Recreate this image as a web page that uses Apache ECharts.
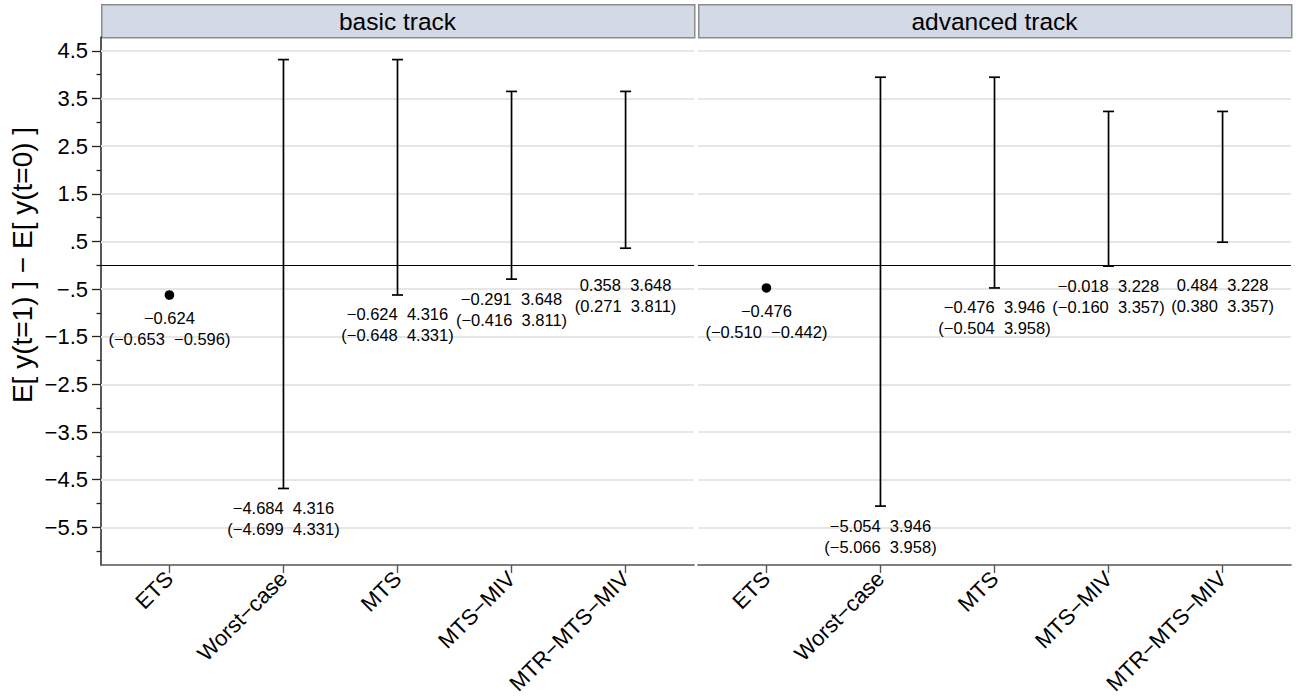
<!DOCTYPE html>
<html>
<head>
<meta charset="utf-8">
<script src="https://cdn.jsdelivr.net/npm/echarts@6/dist/echarts.min.js"></script>
<style>
html,body{margin:0;padding:0;background:#fff;}
#chart{width:1301px;height:698px;}
</style>
</head>
<body>
<div id="chart"></div>
<script>
// ---------- data ----------
const categories = ['ETS', 'Worst\u2212case', 'MTS', 'MTS\u2212MIV', 'MTR\u2212MTS\u2212MIV'];
const panelTitles = ['basic track', 'advanced track'];

// bounds (lower, upper); for ETS lower == upper is the point estimate
const basicLower = [-0.624, -4.684, -0.624, -0.291, 0.358];
const basicUpper = [-0.624, 4.316, 4.316, 3.648, 3.648];
const basicCiLow = [-0.653, -4.699, -0.648, -0.416, 0.271];
const basicCiHigh = [-0.596, 4.331, 4.331, 3.811, 3.811];

const advancedLower = [-0.476, -5.054, -0.476, -0.018, 0.484];
const advancedUpper = [-0.476, 3.946, 3.946, 3.228, 3.228];
const advancedCiLow = [-0.510, -5.066, -0.504, -0.160, 0.380];
const advancedCiHigh = [-0.442, 3.958, 3.958, 3.357, 3.357];

const yTickValues = [4.5, 3.5, 2.5, 1.5, 0.5, -0.5, -1.5, -2.5, -3.5, -4.5, -5.5];
const yMinorTickValues = [4, 3, 2, 1, 0, -1, -2, -3, -4, -5, -6];
const yTitle = 'E[ y(t=1) ] \u2212 E[ y(t=0) ]';

// ---------- helpers ----------
const MINUS = '\u2212';
const SP2 = ' \u00a0';
function fmt3(v) { return (v < 0 ? MINUS : '') + Math.abs(v).toFixed(3); }
function fmtTick(v) {
  let s = Math.abs(v).toFixed(1);
  if (s.startsWith('0.')) s = s.slice(1);
  return (v < 0 ? MINUS : '') + s;
}
function buildRows(lower, upper, ciLo, ciHi) {
  return categories.map((c, i) => [i, lower[i], upper[i], ciLo[i], ciHi[i]]);
}

const FONT = '"Liberation Sans", Arial, Helvetica, sans-serif';
const Y_MIN = -6.29, Y_MAX = 4.79;
const X_MIN = -0.6, X_MAX = 4.6;
const catIdx = categories.map((c, i) => i);
const NONE = 'rgba(0,0,0,0)';

function renderBar(params, api) {
  const x = api.value(0), lo = api.value(1), hi = api.value(2);
  const cl = api.value(3), ch = api.value(4);
  const pLo = api.coord([x, lo]);
  const pHi = api.coord([x, hi]);
  const children = [];
  const isPoint = lo === hi;
  const stroke = { stroke: '#000', lineWidth: 1.7 };
  if (isPoint) {
    children.push({ type: 'circle', shape: { cx: pLo[0], cy: pLo[1], r: 4.8 }, style: { fill: '#000' } });
  } else {
    children.push({ type: 'line', shape: { x1: pLo[0], y1: pLo[1], x2: pHi[0], y2: pHi[1] }, style: stroke });
    children.push({ type: 'line', shape: { x1: pLo[0] - 5.5, y1: pLo[1], x2: pLo[0] + 5.5, y2: pLo[1] }, style: stroke });
    children.push({ type: 'line', shape: { x1: pHi[0] - 5.5, y1: pHi[1], x2: pHi[0] + 5.5, y2: pHi[1] }, style: stroke });
  }
  const anchor = api.coord([x, Math.min(lo, 0)]);
  const line1 = isPoint ? fmt3(lo) : fmt3(lo) + SP2 + fmt3(hi);
  const line2 = '(' + fmt3(cl) + SP2 + fmt3(ch) + ')';
  children.push({
    type: 'text',
    style: {
      text: line1 + '\n' + line2,
      x: anchor[0], y: anchor[1] + (isPoint ? 13 : 9),
      align: 'center', verticalAlign: 'top',
      fontSize: 16.5, fontFamily: FONT, lineHeight: 21, fill: '#000'
    }
  });
  return { type: 'group', children: children };
}

const grids = [
  { left: 101, right: 607, top: 37, bottom: 133 },
  { left: 698, right: 10, top: 37, bottom: 133 }
];

const xAxes = [0, 1].map(g => ({
  type: 'value', gridIndex: g, min: X_MIN, max: X_MAX, position: 'bottom',
  axisLine: { show: true, onZero: false, lineStyle: { color: '#555', width: 1.6 } },
  axisTick: { show: true, customValues: catIdx, length: 8, lineStyle: { color: '#555', width: 1.4 } },
  axisLabel: {
    customValues: catIdx, rotate: 45, margin: 10,
    formatter: v => categories[Math.round(v)],
    fontSize: 22, fontFamily: FONT, color: '#000'
  },
  splitLine: { show: false }
}));

const yAxes = [
  {
    type: 'value', gridIndex: 0, min: Y_MIN, max: Y_MAX, position: 'left',
    axisLine: { show: true, onZero: false, lineStyle: { color: '#222', width: 1.5 } },
    axisTick: { show: true, customValues: yTickValues, length: 9, lineStyle: { color: '#222', width: 1.3 } },
    axisLabel: { customValues: yTickValues, formatter: fmtTick, fontSize: 22, fontFamily: FONT, color: '#000', margin: 13 },
    splitLine: { show: false }
  },
  {
    type: 'value', gridIndex: 0, min: Y_MIN, max: Y_MAX, position: 'left',
    axisLine: { show: false, onZero: false, lineStyle: { color: NONE, width: 0 } },
    axisTick: { show: true, customValues: yMinorTickValues, length: 4.5, lineStyle: { color: '#222', width: 1.3 } },
    axisLabel: { show: false },
    splitLine: { show: false }
  },
  {
    type: 'value', gridIndex: 1, min: Y_MIN, max: Y_MAX, position: 'left',
    axisLine: { show: false, onZero: false, lineStyle: { color: NONE, width: 0 } },
    axisTick: { show: false }, axisLabel: { show: false },
    splitLine: { show: false }
  }
];

function refSeries(xi, yi) {
  return [
    {
      type: 'line', xAxisIndex: xi, yAxisIndex: yi, data: [], silent: true, z: 1,
      markLine: {
        silent: true, symbol: ['none', 'none'], label: { show: false },
        lineStyle: { color: '#e6e6e6', width: 2, type: 'solid' },
        emphasis: { disabled: true },
        data: yTickValues.map(v => ({ yAxis: v }))
      }
    },
    {
      type: 'line', xAxisIndex: xi, yAxisIndex: yi, data: [], silent: true, z: 2,
      markLine: {
        silent: true, symbol: ['none', 'none'], label: { show: false },
        lineStyle: { color: '#000', width: 1.2, type: 'solid' },
        emphasis: { disabled: true },
        data: [{ yAxis: 0 }]
      }
    }
  ];
}

const series = [
  ...refSeries(0, 0),
  ...refSeries(1, 2),
  {
    type: 'custom', xAxisIndex: 0, yAxisIndex: 0, clip: false, z: 5,
    renderItem: renderBar,
    data: buildRows(basicLower, basicUpper, basicCiLow, basicCiHigh)
  },
  {
    type: 'custom', xAxisIndex: 1, yAxisIndex: 2, clip: false, z: 5,
    renderItem: renderBar,
    data: buildRows(advancedLower, advancedUpper, advancedCiLow, advancedCiHigh)
  }
];

const stripTop = 4, stripH = 33;
const graphics = [];
grids.forEach((g, i) => {
  const x0 = g.left;
  const w = 1301 - g.right - g.left;
  graphics.push({
    type: 'rect', left: x0, top: stripTop,
    shape: { width: w, height: stripH },
    style: { fill: '#d3d9e5', stroke: '#8c8c8c', lineWidth: 1.5 }
  });
  graphics.push({
    type: 'text', x: x0 + w / 2, y: stripTop + stripH / 2 + 1,
    style: { text: panelTitles[i], align: 'center', verticalAlign: 'middle', fontSize: 24.5, fontFamily: FONT, fill: '#000' }
  });
});
graphics.push({
  type: 'text', x: 22, y: 265, rotation: Math.PI / 2,
  style: { text: yTitle, align: 'center', verticalAlign: 'middle', fontSize: 28, fontFamily: FONT, fill: '#000' }
});

const chart = echarts.init(document.getElementById('chart'), null, { renderer: 'svg', width: 1301, height: 698 });
chart.setOption({
  animation: false,
  backgroundColor: '#fff',
  grid: grids,
  xAxis: xAxes,
  yAxis: yAxes,
  series: series,
  graphic: graphics
});
</script>
</body>
</html>
